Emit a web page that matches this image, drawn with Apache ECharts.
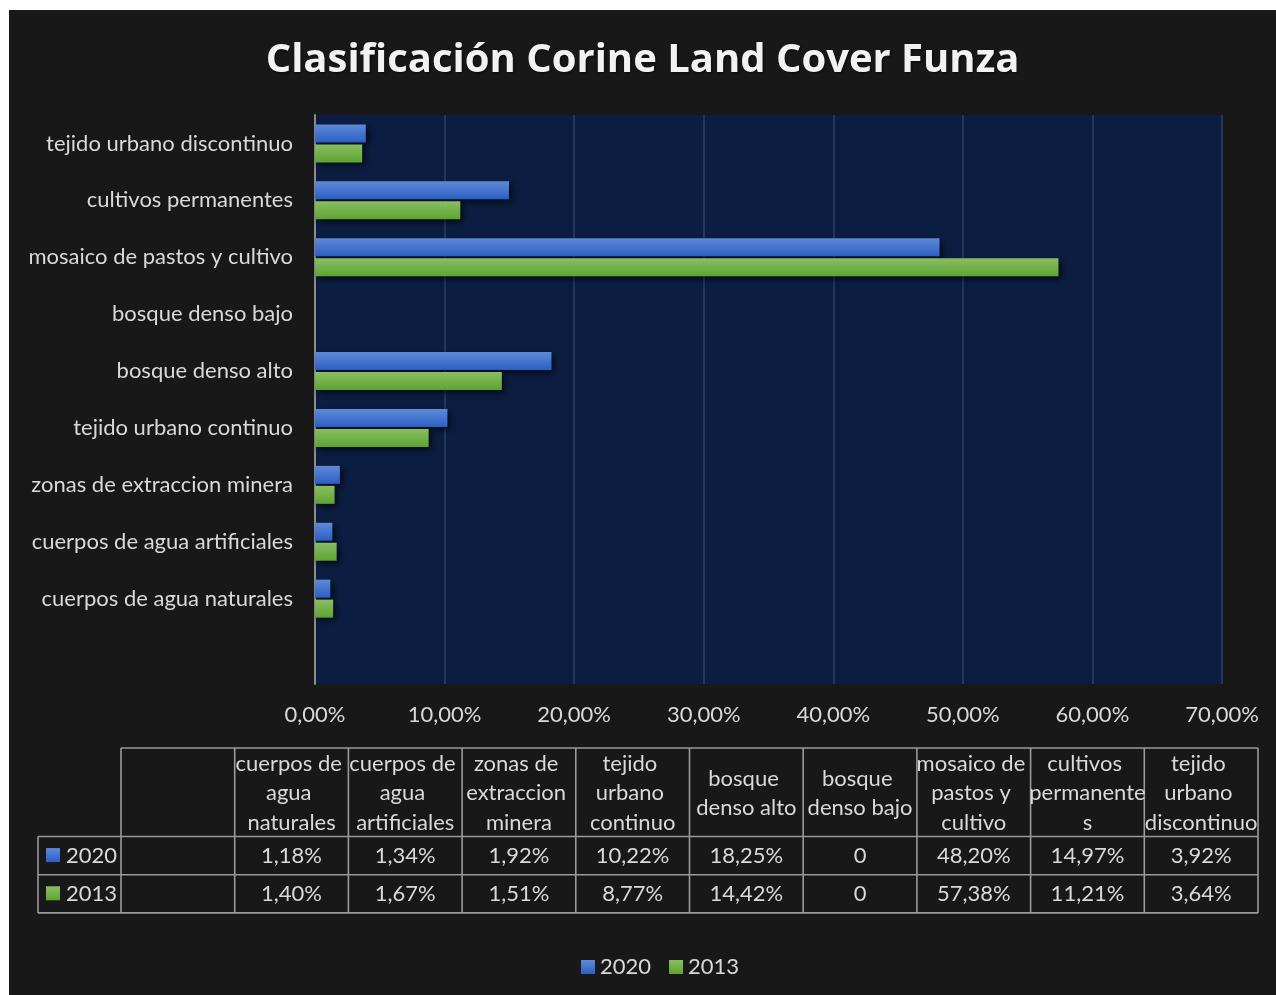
<!DOCTYPE html>
<html>
<head>
<meta charset="utf-8">
<title>Clasificación Corine Land Cover Funza</title>
<script src="https://cdn.jsdelivr.net/npm/echarts@6/dist/echarts.min.js"></script>
<style>
  html, body { margin: 0; padding: 0; background: #ffffff; }
  #chart { position: absolute; left: 9px; top: 10px; width: 1267px; height: 985px; }
</style>
</head>
<body>
<div id="chart"></div>
<script>
// Land cover classes (bottom to top on the chart)
const categories = [
  'cuerpos de agua naturales',
  'cuerpos de agua artificiales',
  'zonas de extraccion minera',
  'tejido urbano continuo',
  'bosque denso alto',
  'bosque denso bajo',
  'mosaico de pastos y cultivo',
  'cultivos permanentes',
  'tejido urbano discontinuo'
];
const years = ['2020', '2013'];
// Share of the municipality area, in percent
const values2020 = [1.18, 1.34, 1.92, 10.22, 18.25, 0, 48.20, 14.97, 3.92];
const values2013 = [1.40, 1.67, 1.51, 8.77, 14.42, 0, 57.38, 11.21, 3.64];
const axisMin = 0, axisMax = 70, axisStep = 10;

const FONT = 'Lato, "Open Sans", "Noto Sans", sans-serif';
const FS = 22;
const TEXT = '#d9d9d9';
const GRID_LINE = '#9a9a9a';

const blueFill = new echarts.graphic.LinearGradient(0, 0, 0, 1, [
  { offset: 0, color: '#5d8ad9' }, { offset: 1, color: '#2c5fc3' }
]);
const greenFill = new echarts.graphic.LinearGradient(0, 0, 0, 1, [
  { offset: 0, color: '#89bf62' }, { offset: 1, color: '#5fa333' }
]);

function pct(v) {
  return v === 0 ? '0' : v.toFixed(2).replace('.', ',') + '%';
}

// The chart keeps an empty slot below the first class
const yCats = [''].concat(categories);
const s2020 = [null].concat(values2020);
const s2013 = [null].concat(values2013);

// ---- data table under the chart ----
const tbl = { left: 112, top: 738, colW: 113.7, headH: 88.5, rowH: 38.2, keyLeft: 29 };
const graphics = [];
const nCols = categories.length + 1;
const tblRight = tbl.left + nCols * tbl.colW;
const rowsTop = tbl.top + tbl.headH;
const tblBottom = rowsTop + 2 * tbl.rowH;
function hline(y, x1, x2) {
  graphics.push({ type: 'line', shape: { x1: x1, y1: y, x2: x2, y2: y },
    style: { stroke: GRID_LINE, lineWidth: 1.6 }, silent: true });
}
function vline(x, y1, y2) {
  graphics.push({ type: 'line', shape: { x1: x, y1: y1, x2: x, y2: y2 },
    style: { stroke: GRID_LINE, lineWidth: 1.6 }, silent: true });
}
hline(tbl.top, tbl.left, tblRight);
hline(rowsTop, tbl.keyLeft, tblRight);
hline(rowsTop + tbl.rowH, tbl.keyLeft, tblRight);
hline(tblBottom, tbl.keyLeft, tblRight);
vline(tbl.keyLeft, rowsTop, tblBottom);
for (let i = 0; i <= nCols; i++) {
  vline(tbl.left + i * tbl.colW, tbl.top, tblBottom);
}
categories.forEach(function (name, i) {
  const cx = tbl.left + (i + 1.5) * tbl.colW;
  graphics.push({ type: 'text', x: cx, y: tbl.top + tbl.headH / 2 + 1, silent: true,
    style: { text: name, fill: TEXT, fontSize: FS, fontFamily: FONT,
      align: 'center', verticalAlign: 'middle', width: tbl.colW + 4,
      overflow: 'break', lineHeight: 29.5 } });
});
const rows = [
  { year: years[0], vals: values2020, fill: blueFill },
  { year: years[1], vals: values2013, fill: greenFill }
];
rows.forEach(function (r, k) {
  const cy = rowsTop + (k + 0.5) * tbl.rowH;
  graphics.push({ type: 'rect', shape: { x: tbl.keyLeft + 8, y: cy - 7.5, width: 14, height: 14 },
    style: { fill: r.fill }, silent: true });
  graphics.push({ type: 'text', x: tbl.keyLeft + 28, y: cy, silent: true,
    style: { text: r.year, fill: TEXT, fontSize: FS, fontFamily: FONT,
      align: 'left', verticalAlign: 'middle' } });
  r.vals.forEach(function (v, i) {
    graphics.push({ type: 'text', x: tbl.left + (i + 1.5) * tbl.colW, y: cy, silent: true,
      style: { text: pct(v), fill: TEXT, fontSize: FS, fontFamily: FONT,
        align: 'center', verticalAlign: 'middle' } });
  });
});

const chart = echarts.init(document.getElementById('chart'), null, { renderer: 'canvas' });
chart.setOption({
  backgroundColor: '#181818',
  animation: false,
  textStyle: { fontFamily: FONT },
  title: {
    text: 'Clasificación Corine Land Cover Funza',
    left: 'center',
    top: 26,
    textStyle: {
      color: '#f2f2f2', fontSize: 40, fontWeight: 'bold', fontFamily: '"Open Sans", Lato, sans-serif',
      textShadowColor: 'rgba(0,0,0,0.6)', textShadowBlur: 3, textShadowOffsetX: 1, textShadowOffsetY: 1
    }
  },
  legend: {
    data: years,
    left: 567,
    top: 941,
    icon: 'rect',
    itemWidth: 14,
    itemHeight: 14,
    itemGap: 18,
    textStyle: { color: TEXT, fontSize: FS, fontFamily: FONT }
  },
  grid: {
    left: 306, top: 105, right: 54, bottom: 311,
    show: true, backgroundColor: '#0b1d40', borderWidth: 0
  },
  xAxis: {
    type: 'value',
    min: axisMin, max: axisMax, interval: axisStep,
    axisLine: { show: false },
    axisTick: { show: false },
    splitLine: { show: true, lineStyle: { color: '#24365a', width: 2 } },
    axisLabel: {
      color: TEXT, fontSize: FS, fontFamily: FONT, margin: 20,
      formatter: function (v) { return v.toFixed(2).replace('.', ',') + '%'; }
    }
  },
  yAxis: {
    type: 'category',
    data: yCats,
    axisLine: { show: true, lineStyle: { color: '#8c8c8c', width: 2 } },
    axisTick: { show: false },
    axisLabel: { color: TEXT, fontSize: FS, fontFamily: FONT, margin: 22 }
  },
  series: [
    {
      name: years[0], type: 'bar', data: s2020,
      barWidth: 18, barGap: '11%',
      itemStyle: { color: blueFill, shadowColor: 'rgba(0,0,0,0.65)', shadowBlur: 6, shadowOffsetX: 3, shadowOffsetY: 3 }
    },
    {
      name: years[1], type: 'bar', data: s2013,
      barWidth: 18, barGap: '11%',
      itemStyle: { color: greenFill, shadowColor: 'rgba(0,0,0,0.65)', shadowBlur: 6, shadowOffsetX: 3, shadowOffsetY: 3 }
    }
  ],
  graphic: graphics
});
</script>
</body>
</html>
